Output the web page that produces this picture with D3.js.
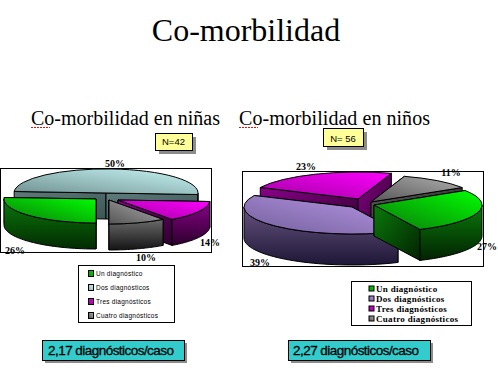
<!DOCTYPE html>
<html>
<head>
<meta charset="utf-8">
<script src="https://cdn.jsdelivr.net/npm/d3@7"></script>
<style>
  html, body { margin: 0; padding: 0; background: #fff; }
  svg { display: block; }
</style>
</head>
<body>
<div id="chart"></div>
<script>
// data
var categories = ["Un diagnóstico", "Dos diagnósticos", "Tres diagnósticos", "Cuatro diagnósticos"];
var ninasValues = [26, 50, 14, 10];
var ninosValues = [27, 39, 23, 11];
var caseLabels = ["2,17 diagnósticos/caso", "2,27 diagnósticos/caso"];

var svgWidth = 498;
var svgHeight = 372;
var deg = Math.PI / 180;

// colours per slice: top face [dark, light], outer wall [top, bottom]
var ninasColors = [
    { top: ["#0b7a0b", "#00ff00"], wall: ["#0a7a0a", "#032a03"] },
    { top: ["#6f8f8f", "#c8f6f6"], wall: ["#5f7a7a", "#3c5656"] },
    { top: ["#a000a0", "#ff00ff"], wall: ["#8a008a", "#2c002c"] },
    { top: ["#555555", "#b0b0b0"], wall: ["#6a6a6a", "#141414"] }
];
var ninosColors = [
    { top: ["#0b7a0b", "#00ff00"], wall: ["#0a7a0a", "#022202"] },
    { top: ["#73609c", "#b896e6"], wall: ["#66527f", "#1e1736"] },
    { top: ["#a000a0", "#ff00ff"], wall: ["#8a008a", "#2c002c"] },
    { top: ["#555555", "#b0b0b0"], wall: ["#5a5a5a", "#222222"] }
];
var legendSwatches = [
    ["#009a00", "#00d000"],
    [null, null],
    ["#a000a0", "#e000e0"],
    ["#505050", "#b0b0b0"]
];

// layout of the two pies: pieces are pulled away from the pie, hence one apex per slice
var charts = [
    {
        id: "ninas", values: ninasValues, colors: ninasColors,
        startAngle: 180 * deg, rx: 92, ry: 24, depth: 26,
        apex: [[96, 199], [106, 193], [118, 200], [109, 200]],
        order: [1, 2, 3, 0],
        frame: [0, 168, 211, 84],
        labels: [["26%", 15, 254], ["50%", 115, 167], ["14%", 210, 246], ["10%", 146, 261]]
    },
    {
        id: "ninos", values: ninosValues, colors: ninosColors,
        startAngle: 57.6 * deg, rx: 108, ry: 27, depth: 31,
        apex: [[374, 205], [352, 207], [358, 199], [371, 202]],
        order: [2, 3, 1, 0],
        frame: [242, 171, 241, 95],
        labels: [["27%", 487, 250], ["39%", 260, 266], ["23%", 306, 170], ["11%", 451, 176]]
    }
];

var svg = d3.select("#chart").append("svg")
    .attr("width", svgWidth)
    .attr("height", svgHeight);
var defs = svg.append("defs");

function gradient(id, stops, x1, y1, x2, y2) {
    var g = defs.append("linearGradient").attr("id", id)
        .attr("x1", x1).attr("y1", y1).attr("x2", x2).attr("y2", y2);
    g.append("stop").attr("offset", "0%").attr("stop-color", stops[0]);
    g.append("stop").attr("offset", "100%").attr("stop-color", stops[1]);
    return "url(#" + id + ")";
}

var line = d3.line();

function drawChart(c) {
    var pie = d3.pie().sort(null)
        .startAngle(c.startAngle)
        .endAngle(c.startAngle + 2 * Math.PI);
    var arcs = pie(c.values);
    var arc = d3.arc().innerRadius(0).outerRadius(c.rx);

    // angle measured clockwise from the top of the pie
    function px(i, a) { return c.apex[i][0] + c.rx * Math.sin(a); }
    function py(i, a) { return c.apex[i][1] - c.ry * Math.cos(a); }

    var g = svg.append("g").attr("id", c.id);

    g.append("rect")
        .attr("x", c.frame[0] + 0.5).attr("y", c.frame[1] + 0.5)
        .attr("width", c.frame[2]).attr("height", c.frame[3])
        .attr("fill", "#fff").attr("stroke", "#000");

    c.order.forEach(function(i) {
        var d = arcs[i];
        var col = c.colors[i];
        var ax = c.apex[i][0], ay = c.apex[i][1];
        var wallFill = gradient(c.id + "wall" + i, col.wall, 0, 0, 0, 1);
        var flatFill = gradient(c.id + "flat" + i, [col.wall[0], col.wall[1]], 0, 0, 1, 1);

        // flat cut walls first, the nearer faces paint over the hidden ones
        [d.startAngle, d.endAngle].forEach(function(a) {
            var x = px(i, a), y = py(i, a);
            g.append("path")
                .attr("d", line([[ax, ay], [x, y], [x, y + c.depth], [ax, ay + c.depth]]) + "Z")
                .attr("fill", flatFill)
                .attr("stroke", "#000")
                .attr("stroke-width", 1);
        });

        // outer wall, only the part that faces the viewer
        var from = d.startAngle, to = d.endAngle, k;
        for (k = -1; k < 3; k++) {
            var lo = Math.max(from, (90 + 360 * k) * deg);
            var hi = Math.min(to, (270 + 360 * k) * deg);
            if (hi > lo) {
                var steps = d3.range(0, 41).map(function(s) { return lo + (hi - lo) * s / 40; });
                var upper = steps.map(function(a) { return [px(i, a), py(i, a)]; });
                var lower = steps.slice().reverse().map(function(a) { return [px(i, a), py(i, a) + c.depth]; });
                g.append("path")
                    .attr("d", line(upper.concat(lower)) + "Z")
                    .attr("fill", wallFill)
                    .attr("stroke", "#000")
                    .attr("stroke-width", 1);
            }
        }

        // top face
        g.append("path")
            .attr("d", arc({ startAngle: d.startAngle, endAngle: d.endAngle }))
            .attr("transform", "translate(" + ax + "," + ay + ") scale(1," + (c.ry / c.rx) + ")")
            .attr("fill", gradient(c.id + "top" + i, col.top, 0, 1, 1, 0))
            .attr("stroke", "#000")
            .attr("stroke-width", 1)
            .attr("vector-effect", "non-scaling-stroke");
    });

    g.selectAll("text.pct")
        .data(c.labels)
        .enter()
        .append("text")
        .attr("class", "pct")
        .attr("x", function(d) { return d[1]; })
        .attr("y", function(d) { return d[2]; })
        .attr("text-anchor", "middle")
        .attr("font-family", "Liberation Serif")
        .attr("font-weight", "bold")
        .attr("font-size", "10px")
        .text(function(d) { return d[0]; });
}

charts.forEach(drawChart);

// titles
svg.append("text")
    .attr("x", 246).attr("y", 41)
    .attr("text-anchor", "middle")
    .attr("font-family", "Liberation Serif")
    .attr("font-size", "32px")
    .text("Co-morbilidad");

[["Co-morbilidad en niñas", 31, 220], ["Co-morbilidad en niños", 239, 430]].forEach(function(t) {
    svg.append("text")
        .attr("x", t[1]).attr("y", 125)
        .attr("font-family", "Liberation Serif")
        .attr("font-size", "20px")
        .attr("textLength", t[2] - t[1])
        .text(t[0]);
    // spell-check squiggle under "Co"
    svg.append("line")
        .attr("x1", t[1]).attr("x2", t[1] + 19)
        .attr("y1", 127.5).attr("y2", 127.5)
        .attr("stroke", "#e01010")
        .attr("stroke-dasharray", "2,1");
});

function shadowBox(x, y, w, h, off, fill) {
    svg.append("rect")
        .attr("x", x + off).attr("y", y + off)
        .attr("width", w).attr("height", h)
        .attr("fill", "#8c8c8c");
    svg.append("rect")
        .attr("x", x + 0.5).attr("y", y + 0.5)
        .attr("width", w).attr("height", h)
        .attr("fill", fill)
        .attr("stroke", "#000");
}

// N boxes
[["N=42", 155, 133, 37, 17, 173.5, 145], ["N= 56", 323, 128, 40, 18, 343, 142]].forEach(function(b) {
    shadowBox(b[1], b[2], b[3], b[4], 4, "#ffff99");
    svg.append("text")
        .attr("x", b[5]).attr("y", b[6])
        .attr("text-anchor", "middle")
        .attr("font-family", "Liberation Sans")
        .attr("font-size", "9.5px")
        .text(b[0]);
});

// legend of the left chart
svg.append("rect")
    .attr("x", 78.5).attr("y", 265.5).attr("width", 96).attr("height", 57)
    .attr("fill", "#fff").attr("stroke", "#000");
categories.forEach(function(name, i) {
    var y = 273.5 + i * 14;
    var sw = i === 1 ? ["#90b0b0", "#c8f6f6"] : legendSwatches[i];
    svg.append("rect")
        .attr("x", 88.5).attr("y", y - 3).attr("width", 5).attr("height", 6)
        .attr("fill", gradient("legL" + i, sw, 0, 1, 1, 0)).attr("stroke", "#000");
    svg.append("text")
        .attr("x", 96).attr("y", y + 2.5)
        .attr("font-family", "Liberation Sans")
        .attr("font-size", "6.5px")
        .attr("letter-spacing", "0.25px")
        .text(name);
});

// legend of the right chart
svg.append("rect")
    .attr("x", 351.5).attr("y", 281.5).attr("width", 120).attr("height", 44)
    .attr("fill", "#fff").attr("stroke", "#000");
categories.forEach(function(name, i) {
    var y = 288.5 + i * 10;
    var sw = i === 1 ? ["#73609c", "#b896e6"] : legendSwatches[i];
    svg.append("rect")
        .attr("x", 369).attr("y", y - 2.5).attr("width", 5).attr("height", 5)
        .attr("fill", gradient("legR" + i, sw, 0, 1, 1, 0)).attr("stroke", "#000");
    svg.append("text")
        .attr("x", 376).attr("y", y + 3)
        .attr("font-family", "Liberation Serif")
        .attr("font-weight", "bold")
        .attr("font-size", "9px")
        .attr("letter-spacing", "0.3px")
        .text(name);
});

// cases per child boxes
[[42, 48], [288, 293]].forEach(function(b, i) {
    shadowBox(b[0], 340, 142, 20, 3, "#33cccc");
    svg.append("text")
        .attr("x", b[1]).attr("y", 355)
        .attr("font-family", "Liberation Sans")
        .attr("font-size", "13.5px")
        .attr("stroke", "#000")
        .attr("stroke-width", 0.3)
        .attr("textLength", 126)
        .text(caseLabels[i]);
});
</script>
</body>
</html>
